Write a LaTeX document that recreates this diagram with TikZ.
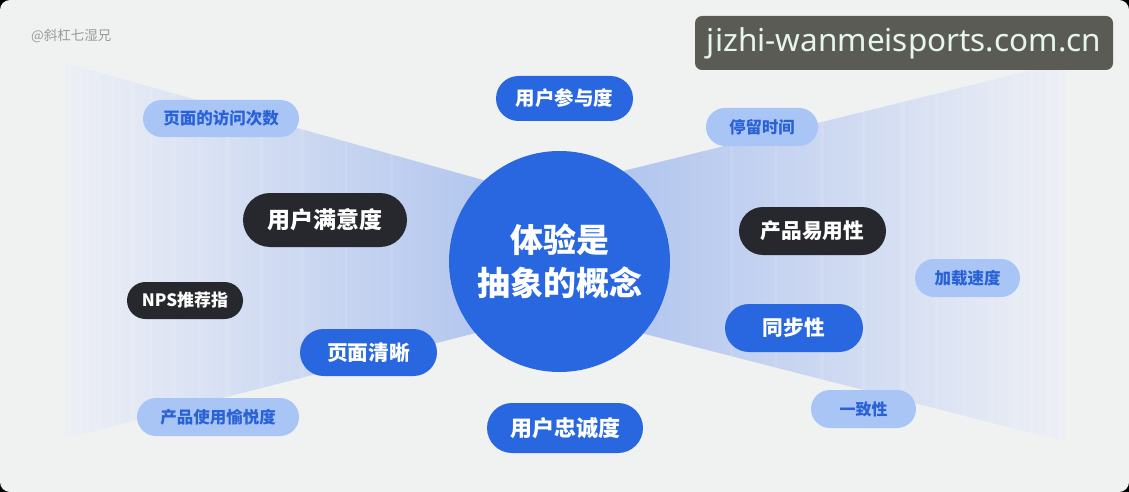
\documentclass[tikz,border=0pt]{standalone}
\usepackage{fontspec}
\newfontfamily\cjk{Noto Sans CJK SC}
\newfontfamily\latinsans{Noto Sans}
\usetikzlibrary{shapes.misc}
\definecolor{bg}{HTML}{F0F1F1}
\definecolor{bandin}{HTML}{AEC3EE}
\definecolor{bandout}{HTML}{EDEFF5}
\definecolor{mainblue}{HTML}{2967E1}
\definecolor{darkpill}{HTML}{27282D}
\definecolor{lightpill}{HTML}{A8C5F6}
\definecolor{lighttext}{HTML}{2A62D6}
\definecolor{markgray}{HTML}{9A9A9A}
\definecolor{boxgray}{HTML}{5B5B56}
\definecolor{boxtext}{HTML}{E6F6EC}
\newcommand{\fsz}[1]{\fontsize{#1}{#1}\selectfont}
\tikzset{
  pill/.style={rounded rectangle, inner sep=0pt, font=\cjk\bfseries},
  lightbox/.style={pill, fill=lightpill, text=lighttext},
  darkbox/.style={pill, fill=darkpill, text=white},
  bluebox/.style={pill, fill=mainblue, text=white},
  stripe/.style={fill=white, opacity=0.1},
}
\begin{document}
\begin{tikzpicture}[x=1pt,y=-1pt]
\useasboundingbox (0,0) rectangle (1129,492);
\fill[black] (0,0) rectangle (1129,492);
\fill[bg, rounded corners=10pt] (0,0) rectangle (1129,492);
% bands
\begin{scope}
\clip (65,63) -- (520,190.4) -- (520,321.6) -- (65,438.5) -- cycle;
\shade[left color=bandout, right color=bandin] (65,0) rectangle (520,492);
\foreach \xa/\w in {68/4,80/3,95/6,112/3,131/5,150/2,172/4,198/3,225/5,260/3,300/4,345/2,390/3}
  \fill[stripe] (\xa,0) rectangle ++(\w,492);
\end{scope}
\begin{scope}
\clip (600,176.7) -- (1065,62) -- (1065,441.6) -- (600,322.5) -- cycle;
\shade[left color=bandin, right color=bandout] (600,0) rectangle (1065,492);
\foreach \xa/\w in {730/3,775/2,820/4,862/3,900/5,935/3,962/4,990/3,1012/6,1030/3,1046/4,1058/5}
  \fill[stripe] (\xa,0) rectangle ++(\w,492);
\end{scope}
% watermark
\node[text=markgray, font=\cjk\fsz{13.5}, anchor=west, inner sep=0pt] (wm) at (31,36) {@斜杠七湿兄};
\node[fill=boxgray, rounded corners=7pt, minimum width=418pt, minimum height=54pt, inner sep=0pt, text=boxtext, font=\latinsans\fsz{31.5}] (site) at (904,43) {jizhi-wanmeisports.com.cn};
% pills
\node[lightbox, minimum width=156pt, minimum height=37pt, font=\cjk\bfseries\fsz{16.5}] (p1) at (221,118.5) {页面的访问次数};
\node[bluebox, minimum width=137pt, minimum height=45pt, font=\cjk\bfseries\fsz{19.5}] (p2) at (564.5,98.5) {用户参与度};
\node[lightbox, minimum width=112pt, minimum height=38pt, font=\cjk\bfseries\fsz{16.3}] (p3) at (762,127) {停留时间};
\node[darkbox, minimum width=164pt, minimum height=54pt, font=\cjk\bfseries\fsz{23}] (p4) at (325,220) {用户满意度};
\node[darkbox, minimum width=147pt, minimum height=48pt, font=\cjk\bfseries\fsz{20.7}] (p5) at (812.5,231) {产品易用性};
\node[darkbox, minimum width=116pt, minimum height=37pt, font=\cjk\bfseries\fsz{17}] (p6) at (185,300.5) {NPS推荐指};
\node[lightbox, minimum width=105pt, minimum height=38pt, font=\cjk\bfseries\fsz{16.5}] (p7) at (967.5,278) {加载速度};
\node[bluebox, minimum width=137pt, minimum height=47pt, font=\cjk\bfseries\fsz{20.7}] (p8) at (368.5,352.5) {页面清晰};
\node[bluebox, minimum width=138pt, minimum height=48pt, font=\cjk\bfseries\fsz{20.7}] (p9) at (794,328) {同步性};
\node[lightbox, minimum width=162pt, minimum height=38pt, font=\cjk\bfseries\fsz{16.5}] (p10) at (218,417) {产品使用愉悦度};
\node[bluebox, minimum width=156pt, minimum height=50pt, font=\cjk\bfseries\fsz{22}] (p11) at (565,428) {用户忠诚度};
\node[lightbox, minimum width=105pt, minimum height=38pt, font=\cjk\bfseries\fsz{16}] (p12) at (863.5,409) {一致性};
% center
\node[circle, fill=mainblue, minimum size=221pt, inner sep=0pt, text=white, align=center, font=\cjk\bfseries\fontsize{33}{43}\selectfont] (c) at (559.5,261.5) {体验是\\抽象的概念};
\end{tikzpicture}
\end{document}
